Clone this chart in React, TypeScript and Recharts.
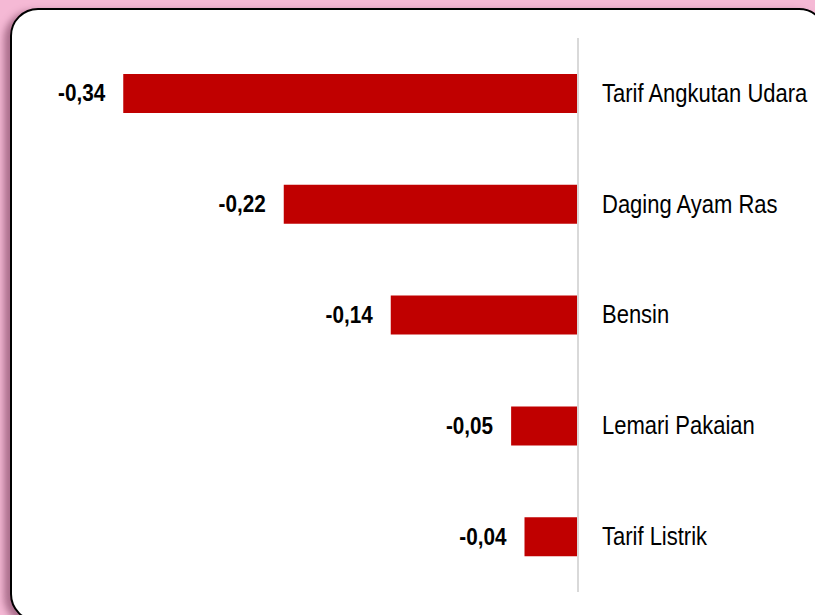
import { BarChart, Bar, XAxis, YAxis, LabelList } from "recharts";

// ── Data ──
const items = ["Tarif Angkutan Udara", "Daging Ayam Ras", "Bensin", "Lemari Pakaian", "Tarif Listrik"];
const andil = [-0.34, -0.22, -0.14, -0.05, -0.04];

const xDomain: [number, number] = [-0.4, 0];

const FONT = "'Liberation Sans', Arial, sans-serif";

const data = items.map((name, i) => ({ name, value: andil[i] }));

// narrow-looking text: regular font squeezed horizontally
function ItemTick(props: any) {
  const { x, y, payload } = props;
  return (
    <text
      transform={`translate(${x},${y}) scale(0.88,1)`}
      textAnchor="start"
      dominantBaseline="central"
      fontFamily={FONT}
      fontSize={25}
      fill="#000"
    >
      {payload.value}
    </text>
  );
}

function ValueLabel(props: any) {
  const { x, y, width, height, value } = props;
  const left = Math.min(x, x + width);
  return (
    <text
      transform={`translate(${left - 18},${y + height / 2}) scale(0.9,1)`}
      textAnchor="end"
      dominantBaseline="central"
      fontFamily={FONT}
      fontWeight="bold"
      fontSize={23}
      fill="#000"
    >
      {Number(value).toFixed(2).replace(".", ",")}
    </text>
  );
}

export default function App() {
  return (
    <div
      style={{
        position: "fixed",
        left: 0,
        top: 0,
        width: 815,
        height: 615,
        overflow: "hidden",
        background: "#f5b9d5",
      }}
    >
      {/* rounded white panel */}
      <div
        style={{
          position: "absolute",
          left: 10,
          top: 8,
          width: 817,
          height: 614,
          boxSizing: "border-box",
          border: "2px solid #000",
          borderRadius: "28px 28px 0 28px",
          background: "#fff",
          boxShadow: "-6px 3px 7px rgba(110,50,80,0.55)",
        }}
      />
      <div style={{ position: "absolute", left: 0, top: 0 }}>
        <BarChart
          width={815}
          height={615}
          data={data}
          layout="vertical"
          margin={{ top: 38, right: 0, bottom: 23, left: 43 }}
          barSize={39}
        >
          <XAxis type="number" domain={xDomain} hide />
          <YAxis
            type="category"
            dataKey="name"
            orientation="right"
            width={237}
            axisLine={{ stroke: "#d9d9d9", strokeWidth: 2 }}
            tickLine={false}
            tickMargin={18}
            tick={<ItemTick />}
          />
          <Bar dataKey="value" fill="#c00000" isAnimationActive={false}>
            <LabelList dataKey="value" content={ValueLabel} />
          </Bar>
        </BarChart>
      </div>
    </div>
  );
}
